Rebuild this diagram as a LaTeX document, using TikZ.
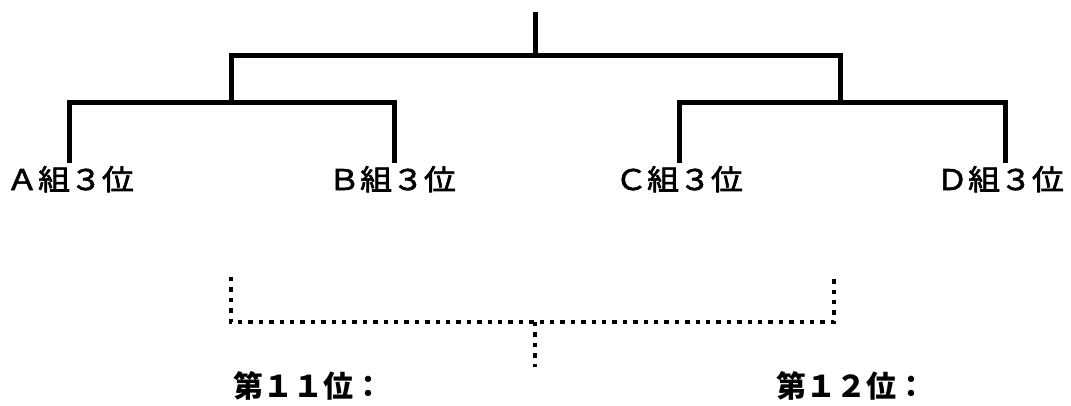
\documentclass[tikz,border=0pt]{standalone}
\usepackage{fontspec}
\setmainfont{Noto Sans CJK JP}
\newfontfamily\jpmed{Noto Sans CJK JP}[FakeBold=2.2,FakeStretch=1.12]
\begin{document}
\begin{tikzpicture}[x=1pt,y=-1pt,
  br/.style={line width=5pt},
  dotbr/.style={line width=4.6pt, dash pattern=on 4.4pt off 6pt},
  lab/.style={font=\jpmed\fontsize{28.5}{28.5}\selectfont, inner sep=0pt, anchor=base west},
  blab/.style={font=\fontsize{30}{30}\selectfont\bfseries, inner sep=0pt, anchor=base west}]
\useasboundingbox (0,0) rectangle (1071,405);
% top bracket
\coordinate (root) at (535,12);
\coordinate (top) at (535,55);
\coordinate (L) at (231,55);
\coordinate (R) at (840,55);
\coordinate (Lm) at (231,102);
\coordinate (Rm) at (840,102);
\coordinate (a) at (69,102);
\coordinate (b) at (394,102);
\coordinate (c) at (679,102);
\coordinate (d) at (1005,102);
\coordinate (a1) at (69,163);
\coordinate (b1) at (394,163);
\coordinate (c1) at (679,163);
\coordinate (d1) at (1005,163);
\draw[br] (root) -- (top);
\draw[br] (Lm) -- (L) -- (R) -- (Rm);
\draw[br] (a1) -- (a) -- (b) -- (b1);
\draw[br] (c1) -- (c) -- (d) -- (d1);
\node[lab] (A) at (6,190) {Ａ組３位};
\node[lab] (B) at (328,190) {Ｂ組３位};
\node[lab] (C) at (615,190) {Ｃ組３位};
\node[lab] (D) at (936,190) {Ｄ組３位};
% bottom dotted bracket
\coordinate (p1) at (231,277);
\coordinate (p2) at (231,322);
\coordinate (p3) at (834,322);
\coordinate (p4) at (834,277);
\coordinate (pm) at (535,322);
\coordinate (pe) at (535,367);
\draw[dotbr] (p1) -- (p2) -- (p3) -- (p4);
\draw[dotbr] (pm) -- (pe);
\node[blab] (W11) at (233,397) {第１１位：};
\node[blab] (W12) at (776,397) {第１２位：};
\end{tikzpicture}
\end{document}
